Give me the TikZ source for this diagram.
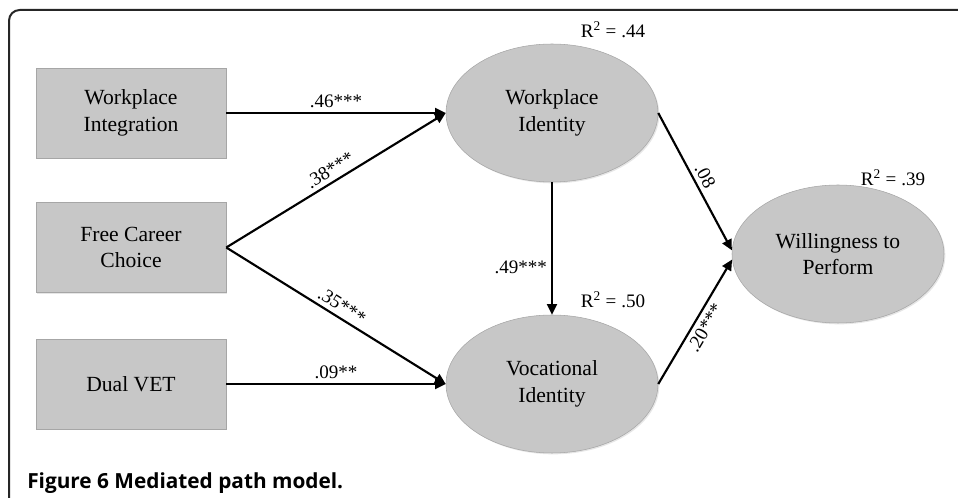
\documentclass[tikz,border=0pt]{standalone}
\usepackage{fontspec}
\setmainfont{Liberation Serif}
\newfontfamily\capfont{Open Sans}
\usetikzlibrary{positioning, arrows.meta, shapes.geometric, shadows}

\begin{document}
\begin{tikzpicture}[
          x=0.75pt, y=-0.75pt,
          factor/.style={rectangle, draw=black!35, fill=black!22, minimum width=142.5pt, minimum height=67.5pt, inner sep=0pt, align=center, font=\fontsize{16.2}{20}\selectfont, drop shadow={shadow xshift=1pt, shadow yshift=-1pt, opacity=0.2}},
          latent/.style={ellipse, draw=black!35, fill=black!22, minimum width=159pt, minimum height=103.5pt, inner sep=0pt, align=center, font=\fontsize{16.2}{20}\selectfont, drop shadow={shadow xshift=1pt, shadow yshift=-1pt, opacity=0.2}},
          link/.style={-{Triangle[length=8pt, width=7.5pt]}, line width=1.6pt},
          coef/.style={font=\fontsize{14.3}{17}\selectfont, inner sep=3pt},
          rsq/.style={font=\fontsize{14.3}{17}\selectfont}
      ]
      
      \useasboundingbox (0,0) rectangle (958,498);
      \draw[line width=1.5pt, black!85, rounded corners=8pt] (9,10) rectangle (980,530);
      
      \node[factor] (wpi) at (131,113) {Workplace\\Integration};
      \node[factor] (fcc) at (131,247.5) {Free Career\\Choice};
      \node[factor] (dvet) at (131,384) {Dual VET};
      
      \node[latent] (wid) at (552,113) {Workplace\\Identity};
      \node[latent] (vid) at (552,384) {Vocational\\Identity};
      \node[latent] (wtp) at (838,254) {Willingness to\\Perform};
      
      \node[rsq] (r1) at (613,30) {R\textsuperscript{2} = .44};
      \node[rsq] (r2) at (613,300) {R\textsuperscript{2} = .50};
      \node[rsq] (r3) at (893,178) {R\textsuperscript{2} = .39};
      
      \draw[link] (wpi.east) -- node[coef, above] {.46***} (wid.west);
      \draw[link] (fcc.east) -- node[coef, above, sloped] {.38***} (wid.west);
      \draw[link] (fcc.east) -- node[coef, above, sloped] {.35***} (vid.west);
      \draw[link] (dvet.east) -- node[coef, above] {.09**} (vid.west);
      \draw[link] (wid) -- node[coef, left, pos=0.64] {.49***} (vid);
      \draw[link] (wid.east) -- node[coef, above, sloped] {.08} (wtp.178);
      \draw[link] (vid.east) -- node[coef, below, sloped] {.20***} (wtp.183);
      
      \node[anchor=base west, inner sep=0pt, font=\capfont\fontsize{15.6}{18}\selectfont\bfseries] (cap) at (27,489) {Figure 6 Mediated path model.};
      
      \end{tikzpicture}
\end{document}
